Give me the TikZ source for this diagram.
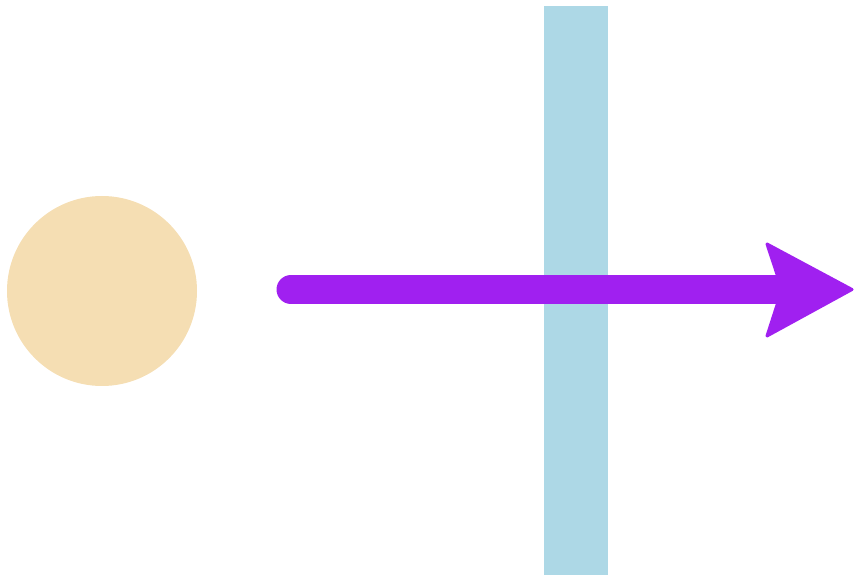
\documentclass[tikz,border=0pt]{standalone}
\definecolor{sun}{HTML}{F5DEB3}
\definecolor{bar}{HTML}{ADD8E6}
\definecolor{ray}{HTML}{A020F0}
\begin{document}
\begin{tikzpicture}[x=1pt,y=-1pt,
  sunstyle/.style={circle,fill=sun,minimum size=190pt,inner sep=0pt},
  barstyle/.style={fill=bar},
  raystyle/.style={draw=ray,line width=29pt,line cap=round},
  headstyle/.style={fill=ray,draw=ray,line width=3pt,line join=round}]
\useasboundingbox (0,0) rectangle (855,577);
\node[sunstyle] (sun) at (102,291) {};
\fill[barstyle] (544,6) rectangle (608,575);
\coordinate (start) at (291,289.5);
\coordinate (end) at (790,289.5);
\draw[raystyle] (start) -- (end);
\fill[headstyle] (767,244) -- (852,289.5) -- (767,336) -- (782,289.5) -- cycle;
\end{tikzpicture}
\end{document}
